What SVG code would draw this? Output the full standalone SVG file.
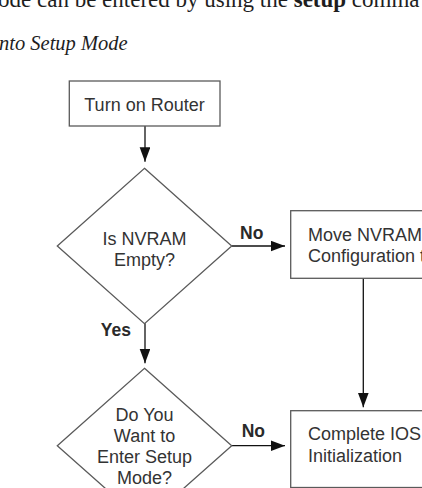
<svg xmlns="http://www.w3.org/2000/svg" width="422" height="488" viewBox="0 0 422 488">
  <style>
    .body { font-family: "Liberation Serif", "Times New Roman", serif; fill: #1e1e1e; }
    .box { fill: #ffffff; stroke: #5a5a5a; stroke-width: 1.3; }
    .lbl { font-family: "Liberation Sans", Arial, sans-serif; font-size: 18px; fill: #333333; }
    .cap { font-family: "Liberation Sans", Arial, sans-serif; font-size: 17.5px; font-weight: bold; fill: #2a2a2a; }
    .flow { fill: none; stroke: #111111; stroke-width: 1.3; marker-end: url(#head); }
  </style>
  <defs>
    <marker id="head" markerUnits="userSpaceOnUse" markerWidth="15" markerHeight="11" refX="14.4" refY="5.35" orient="auto">
      <path d="M0,0 L14.4,5.35 L0,10.7 z" fill="#111111"/>
    </marker>
  </defs>
  <rect width="422" height="488" fill="#ffffff"/>

  <!-- running text above the figure -->
  <text class="body" x="-2" y="6.5" font-size="23">ode can be entered by using the <tspan font-weight="bold">setup</tspan> comma</text>
  <text class="body" x="-1" y="50" font-size="20.5" font-style="italic">nto Setup Mode</text>

  <!-- connectors -->
  <g id="connectors">
    <line class="flow" x1="145" y1="126" x2="145" y2="161.7"/>
    <line class="flow" x1="231.7" y1="246" x2="285" y2="246"/>
    <line class="flow" x1="145" y1="323.3" x2="145" y2="363.3"/>
    <line class="flow" x1="231.7" y1="445.7" x2="285" y2="445.7"/>
    <line class="flow" x1="363.3" y1="278.3" x2="363.3" y2="407.3"/>
    <text class="cap" x="240" y="239">No</text>
    <text class="cap" x="100.7" y="336">Yes</text>
    <text class="cap" x="241.7" y="436.7">No</text>
  </g>

  <g id="turn-on-router">
    <rect class="box" x="69.3" y="81" width="150.7" height="45"/>
    <text class="lbl" x="144.5" y="110.7" text-anchor="middle">Turn on Router</text>
  </g>

  <g id="nvram-empty">
    <polygon class="box" points="144.5,168.3 231.7,246 144.5,323.7 57.3,246"/>
    <text class="lbl" x="144.5" y="245" text-anchor="middle">Is NVRAM</text>
    <text class="lbl" x="144.5" y="266" text-anchor="middle">Empty?</text>
  </g>

  <g id="move-nvram">
    <rect class="box" x="290.7" y="210.7" width="150" height="67.6"/>
    <text class="lbl" x="308" y="240.7">Move NVRAM</text>
    <text class="lbl" x="308" y="261.7">Configuration to</text>
  </g>

  <g id="enter-setup">
    <polygon class="box" points="144.5,368.3 231.7,445.7 144.5,523.1 57.3,445.7"/>
    <text class="lbl" x="144.5" y="420.7" text-anchor="middle">Do You</text>
    <text class="lbl" x="144.5" y="441.7" text-anchor="middle">Want to</text>
    <text class="lbl" x="144.5" y="462.8" text-anchor="middle">Enter Setup</text>
    <text class="lbl" x="144.5" y="484" text-anchor="middle">Mode?</text>
  </g>

  <g id="complete-ios">
    <rect class="box" x="290.7" y="410.7" width="150" height="76.8"/>
    <text class="lbl" x="308" y="440">Complete IOS</text>
    <text class="lbl" x="308" y="461.7">Initialization</text>
  </g>
</svg>
